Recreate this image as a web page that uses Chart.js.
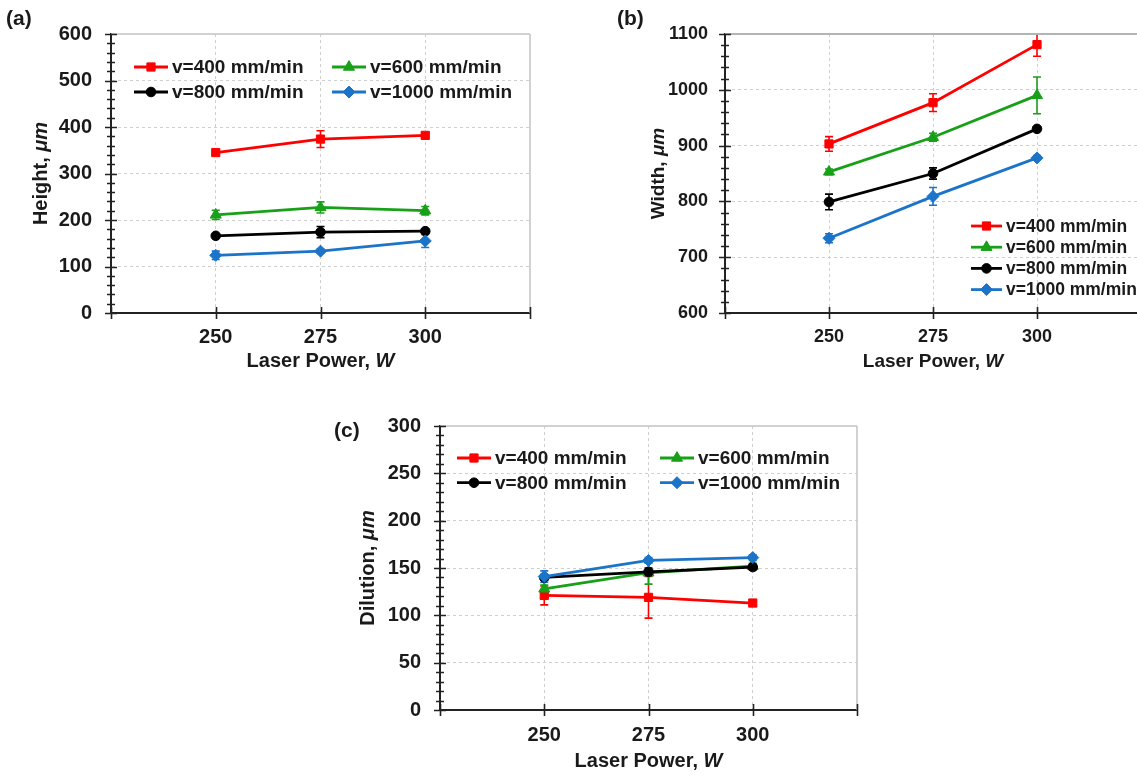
<!DOCTYPE html>
<html>
<head>
<meta charset="utf-8">
<script src="https://cdn.jsdelivr.net/npm/chart.js@4.4.0/dist/chart.umd.min.js"></script>
<style>
  html, body { margin: 0; padding: 0; background: #fff; width: 1137px; height: 776px; overflow: hidden; }
  canvas { position: absolute; }
</style>
</head>
<body>
<canvas id="cA" width="560" height="380" style="left:0px;top:0px"></canvas>
<canvas id="cB" width="590" height="380" style="left:570px;top:0px"></canvas>
<canvas id="cC" width="540" height="381" style="left:330px;top:395px"></canvas>
<script>
const FONT = "'Liberation Sans', Arial, sans-serif";

// laser power (x) and the labelled x ticks
const power = [250, 275, 300];
const xTickLabels = [250, 275, 300];

// series
const speedLabels = ['v=400 mm/min', 'v=600 mm/min', 'v=800 mm/min', 'v=1000 mm/min'];
const lineColors = ['#ff0000', '#18a018', '#000000', '#1b74c8'];
const markerStyles = ['rect', 'triangle', 'circle', 'rectRot'];
const markerSizes = [5.8, 6.4, 4.8, 6];

// (a) height, um  (rows: 400, 600, 800, 1000 mm/min)
const heightMean = [[345, 374, 382], [211, 227, 220], [166, 174, 176], [124, 133, 155]];
const heightErr  = [[5, 18, 5], [10, 12, 9], [4, 12, 4], [9, 4, 14]];

// (b) width, um
const widthMean = [[903, 977, 1081], [853, 915, 990], [799, 850, 930], [734, 809, 878]];
const widthErr  = [[13, 16, 21], [5, 7, 33], [14, 10, 3], [8, 16, 4]];

// (c) dilution, um
const dilutionMean = [[121, 119, 113], [128, 145, 152], [140, 146, 151], [141, 158, 161]];
const dilutionErr  = [[10, 22, 2], [4, 12, 3], [3, 4, 3], [6, 3, 3]];

function drawMarker(ctx, style, r, x, y, color) {
  ctx.save();
  ctx.fillStyle = color;
  ctx.strokeStyle = color;
  ctx.lineWidth = 1;
  Chart.helpers.drawPoint(ctx, { pointStyle: style, radius: r, rotation: 0, borderWidth: 1 }, x, y);
  ctx.restore();
}

function richText(ctx, parts, size, cx, cy, rot) {
  ctx.save();
  ctx.translate(cx, cy);
  ctx.rotate(rot);
  ctx.textBaseline = 'middle';
  ctx.textAlign = 'left';
  ctx.fillStyle = '#1a1a1a';
  const fonts = parts.map(p => (p[1] ? 'italic ' : '') + 'bold ' + size + 'px ' + FONT);
  let total = 0;
  const widths = parts.map((p, i) => {
    ctx.font = fonts[i];
    const w = ctx.measureText(p[0]).width;
    total += w;
    return w;
  });
  let x = -total / 2;
  parts.forEach((p, i) => {
    ctx.font = fonts[i];
    ctx.fillText(p[0], x, 0);
    x += widths[i];
  });
  ctx.restore();
}

function decor(p) {
  return {
    id: 'decor',
    beforeDatasetsDraw(chart) {
      // error bars
      const { ctx, chartArea: a, scales: { x, y } } = chart;
      ctx.save();
      ctx.beginPath();
      ctx.rect(a.left, a.top, a.right - a.left, a.bottom - a.top);
      ctx.clip();
      chart.data.datasets.forEach(ds => {
        ctx.strokeStyle = ds.borderColor;
        ctx.lineWidth = 1.6;
        ds.data.forEach((pt, j) => {
          const e = ds.errs[j];
          const px = x.getPixelForValue(pt.x);
          const t = y.getPixelForValue(pt.y + e);
          const b = y.getPixelForValue(pt.y - e);
          ctx.beginPath();
          ctx.moveTo(px, t); ctx.lineTo(px, b);
          ctx.moveTo(px - 4, t); ctx.lineTo(px + 4, t);
          ctx.moveTo(px - 4, b); ctx.lineTo(px + 4, b);
          ctx.stroke();
        });
      });
      ctx.restore();
    },
    afterDraw(chart) {
      const { ctx, chartArea: a, scales: { x, y } } = chart;

      // grey frame on top and right
      ctx.save();
      ctx.strokeStyle = p.frameColor;
      ctx.lineWidth = p.frameWidth;
      ctx.beginPath();
      ctx.moveTo(a.left, a.top); ctx.lineTo(a.right, a.top);
      ctx.moveTo(a.right, a.top); ctx.lineTo(a.right, a.bottom);
      ctx.stroke();
      ctx.restore();

      // cross ticks on both axes
      ctx.save();
      ctx.strokeStyle = '#222';
      ctx.lineWidth = 1.6;
      ctx.beginPath();
      for (let v = p.yMin; v <= p.yMax + 1e-6; v += p.minor) {
        const py = Math.round(y.getPixelForValue(v)) + 0.5;
        const major = Math.abs(v % p.step) < 1e-6;
        const w = major ? 6 : 4;
        ctx.moveTo(a.left - w, py); ctx.lineTo(a.left + w, py);
      }
      [225, 250, 275, 300, 325].forEach(v => {
        const px = Math.round(x.getPixelForValue(v)) + 0.5;
        ctx.moveTo(px, a.bottom - 6); ctx.lineTo(px, a.bottom + 6);
      });
      ctx.stroke();
      ctx.restore();

      // legend
      const L = p.legend;
      chart.data.datasets.forEach((ds, i) => {
        const col = L.cols === 2 ? i % 2 : 0;
        const row = L.cols === 2 ? Math.floor(i / 2) : i;
        const lx = a.left + L.dx + col * L.colGap;
        const ly = a.top + L.dy + row * L.rowGap;
        ctx.save();
        ctx.strokeStyle = ds.borderColor;
        ctx.lineWidth = 2.8;
        ctx.beginPath();
        ctx.moveTo(lx, ly); ctx.lineTo(lx + L.lineLen, ly);
        ctx.stroke();
        ctx.restore();
        drawMarker(ctx, ds.pointStyle, ds.pointRadius, lx + L.lineLen / 2, ly, ds.borderColor);
        ctx.save();
        ctx.font = 'bold ' + L.size + 'px ' + FONT;
        ctx.fillStyle = '#1a1a1a';
        ctx.textBaseline = 'middle';
        ctx.textAlign = 'left';
        ctx.fillText(ds.label, lx + L.textGap, ly + 1);
        ctx.restore();
      });

      // axis titles
      richText(ctx, p.yTitle, p.titleSize, p.yTitleX, (a.top + a.bottom) / 2, -Math.PI / 2);
      richText(ctx, [['Laser Power, ', false], ['W', true]], p.titleSize, (a.left + a.right) / 2, a.bottom + p.xTitleDy, 0);

      // panel letter
      ctx.save();
      ctx.font = 'bold 21px ' + FONT;
      ctx.fillStyle = '#1a1a1a';
      ctx.textBaseline = 'middle';
      ctx.fillText(p.tag, p.tagX, p.tagY);
      ctx.restore();
    }
  };
}

function makePanel(p) {
  const datasets = speedLabels.map((label, i) => ({
    label: label,
    data: power.map((px, j) => ({ x: px, y: p.mean[i][j] })),
    errs: p.err[i],
    borderColor: lineColors[i],
    backgroundColor: lineColors[i],
    borderWidth: 2.8,
    pointStyle: markerStyles[i],
    pointRadius: markerSizes[i],
    pointHoverRadius: markerSizes[i],
    pointBorderWidth: 1,
    tension: 0,
    order: 4 - i
  }));
  const tickFont = { family: FONT, weight: 'bold', size: p.tickSize };
  new Chart(document.getElementById(p.canvas), {
    type: 'line',
    data: { datasets: datasets },
    plugins: [decor(p)],
    options: {
      responsive: false,
      animation: false,
      events: [],
      layout: { padding: { left: 0, top: p.padTop, right: p.padRight, bottom: 0 } },
      plugins: { legend: { display: false }, tooltip: { enabled: false } },
      scales: {
        x: {
          type: 'linear',
          min: 225,
          max: 325,
          afterFit: s => { s.height = p.xHeight; },
          ticks: {
            stepSize: 25,
            autoSkip: false,
            maxRotation: 0,
            padding: p.tickPadX,
            color: '#1a1a1a',
            font: tickFont,
            callback: v => xTickLabels.includes(v) ? String(v) : ''
          },
          grid: {
            drawTicks: false,
            lineWidth: 1,
            color: c => xTickLabels.includes(c.tick.value) ? '#cfcfcf' : 'rgba(0,0,0,0)'
          },
          border: { display: true, color: '#222', width: 2, dash: [3, 3] }
        },
        y: {
          type: 'linear',
          min: p.yMin,
          max: p.yMax,
          afterFit: s => { s.width = p.yWidth; },
          ticks: {
            stepSize: p.step,
            padding: p.tickPadY,
            color: '#1a1a1a',
            font: tickFont,
            callback: v => String(v)
          },
          grid: {
            drawTicks: false,
            lineWidth: 1,
            color: c => (c.tick.value > p.yMin && c.tick.value < p.yMax) ? '#cfcfcf' : 'rgba(0,0,0,0)'
          },
          border: { display: true, color: '#222', width: 2, dash: [3, 3] }
        }
      }
    }
  });
}

makePanel({
  canvas: 'cA', mean: heightMean, err: heightErr,
  yMin: 0, yMax: 600, step: 100, minor: 20,
  yWidth: 111, xHeight: 67, padTop: 34, padRight: 30,
  tickSize: 20, tickPadY: 19, tickPadX: 12,
  yTitle: [['Height, ', false], ['μm', true]], yTitleX: 41, xTitleDy: 48, titleSize: 20,
  frameColor: '#c4c4c4', frameWidth: 1.5,
  legend: { cols: 2, dx: 23, dy: 33, colGap: 198, rowGap: 25, size: 19, lineLen: 34, textGap: 38 },
  tag: '(a)', tagX: 6, tagY: 19
});

makePanel({
  canvas: 'cB', mean: widthMean, err: widthErr,
  yMin: 600, yMax: 1100, step: 100, minor: 20,
  yWidth: 155, xHeight: 67, padTop: 34, padRight: 19,
  tickSize: 18, tickPadY: 17, tickPadX: 13,
  yTitle: [['Width, ', false], ['μm', true]], yTitleX: 89, xTitleDy: 49, titleSize: 19,
  frameColor: '#b4b4b4', frameWidth: 2,
  legend: { cols: 1, dx: 246, dy: 192, colGap: 0, rowGap: 21.2, size: 17.5, lineLen: 31, textGap: 35 },
  tag: '(b)', tagX: 47, tagY: 19
});

makePanel({
  canvas: 'cC', mean: dilutionMean, err: dilutionErr,
  yMin: 0, yMax: 300, step: 50, minor: 10,
  yWidth: 110, xHeight: 66, padTop: 31, padRight: 13,
  tickSize: 20, tickPadY: 19, tickPadX: 13,
  yTitle: [['Dilution, ', false], ['μm', true]], yTitleX: 38, xTitleDy: 51, titleSize: 20,
  frameColor: '#c4c4c4', frameWidth: 1.5,
  legend: { cols: 2, dx: 17, dy: 32, colGap: 203, rowGap: 24.7, size: 19, lineLen: 34, textGap: 38 },
  tag: '(c)', tagX: 4, tagY: 36
});
</script>
</body>
</html>
